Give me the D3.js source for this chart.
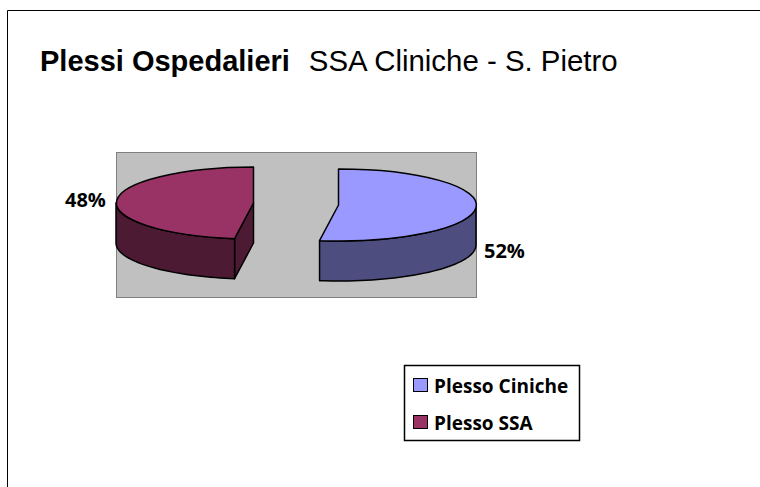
<!DOCTYPE html>
<html>
<head>
<meta charset="utf-8">
<script src="https://cdn.jsdelivr.net/npm/d3@7"></script>
<style>
  body { margin: 0; background: #fff; }
  text { fill: #000; }
  .lbl { font-family: "Open Sans", sans-serif; font-weight: 700; font-size: 19px; }
  .pct { font-size: 20px; }
  .ttl { font-family: "Liberation Sans", Arial, sans-serif; font-size: 29px; }
  path { vector-effect: non-scaling-stroke; }
</style>
</head>
<body>
<div id="chart"></div>
<script>
var categories = ["Plesso Ciniche", "Plesso SSA"];
var values = [52.2, 47.8];
var pctLabels = ["52%", "48%"];
var topColors = ["#9999ff", "#993366"];
var sideColors = ["#4d4d80", "#4d1a33"];

var width = 760, height = 487;
var rx = 137.5, ry = 36, depth = 40;
// each slice is pulled apart sideways
var centers = [{x: 338.5, y: 205}, {x: 253.5, y: 203}];
var labelPos = [{x: 484, y: 258}, {x: 65, y: 207}];

var svg = d3.select("#chart").append("svg")
  .attr("width", width)
  .attr("height", height)
  .style("display", "block");

// chart frame, only top and left show
svg.append("path")
  .attr("d", d3.line()([[7.5, height], [7.5, 10.5], [width, 10.5]]))
  .attr("fill", "none")
  .attr("stroke", "#000");

svg.append("text").attr("class", "ttl").attr("x", 40).attr("y", 71)
  .append("tspan").style("font-weight", "bold").text("Plessi Ospedalieri");
svg.select(".ttl").append("tspan").attr("dx", 19).style("font-size", "29.4px").text("SSA Cliniche - S. Pietro");

// plot area
svg.append("rect")
  .attr("x", 116.5).attr("y", 152.5)
  .attr("width", 360).attr("height", 145)
  .attr("fill", "#c0c0c0")
  .attr("stroke", "#808080");

var pie = d3.pie().sort(null);
var arcs = pie(values);
var arc = d3.arc().innerRadius(0).outerRadius(1);

function pt(c, a, dy) {
  return [c.x + rx * Math.sin(a), c.y - ry * Math.cos(a) + (dy || 0)];
}

// outer wall between two angles
function wall(c, a0, a1) {
  var n = 40, upper = [], lower = [];
  d3.range(n + 1).forEach(function(i) {
    var a = a0 + (a1 - a0) * i / n;
    upper.push(pt(c, a));
    lower.push(pt(c, a, depth));
  });
  return d3.line()(upper.concat(lower.reverse())) + "Z";
}

arcs.forEach(function(d, i) {
  var c = centers[i];
  var g = svg.append("g");
  var style = function(sel, fill) {
    return sel.attr("fill", fill).attr("stroke", "#000").attr("stroke-width", 1.5).attr("stroke-linejoin", "round");
  };

  if (i == 1) {
    // cut face seen from the front
    style(g.append("path").attr("d", d3.line()([
      [c.x, c.y], pt(c, d.startAngle), pt(c, d.startAngle, depth), [c.x, c.y + depth]
    ]) + "Z"), sideColors[i]);
    style(g.append("path").attr("d", wall(c, d.startAngle, 1.5 * Math.PI)), sideColors[i]);
  } else {
    style(g.append("path").attr("d", wall(c, 0.5 * Math.PI, d.endAngle)), sideColors[i]);
  }

  style(g.append("path")
    .attr("transform", "translate(" + c.x + "," + c.y + ") scale(" + rx + "," + ry + ")")
    .attr("d", arc(d)), topColors[i]);

  svg.append("text").attr("class", "lbl pct")
    .attr("x", labelPos[i].x).attr("y", labelPos[i].y)
    .text(pctLabels[i]);
});

// legend
var legend = svg.append("g").attr("transform", "translate(404,365)");
legend.append("rect")
  .attr("x", 0.5).attr("y", 0.5)
  .attr("width", 175).attr("height", 75)
  .attr("fill", "#fff").attr("stroke", "#000").attr("stroke-width", 1.5);

var rows = legend.selectAll(".row").data(categories).enter().append("g")
  .attr("class", "row")
  .attr("transform", function(d, i) { return "translate(0," + (i * 37) + ")"; });
rows.append("rect")
  .attr("x", 9.5).attr("y", 13.5)
  .attr("width", 14).attr("height", 13)
  .attr("fill", function(d, i) { return topColors[i]; })
  .attr("stroke", "#000");
rows.append("text").attr("class", "lbl")
  .attr("x", 30).attr("y", 28)
  .text(function(d) { return d; });
</script>
</body>
</html>
